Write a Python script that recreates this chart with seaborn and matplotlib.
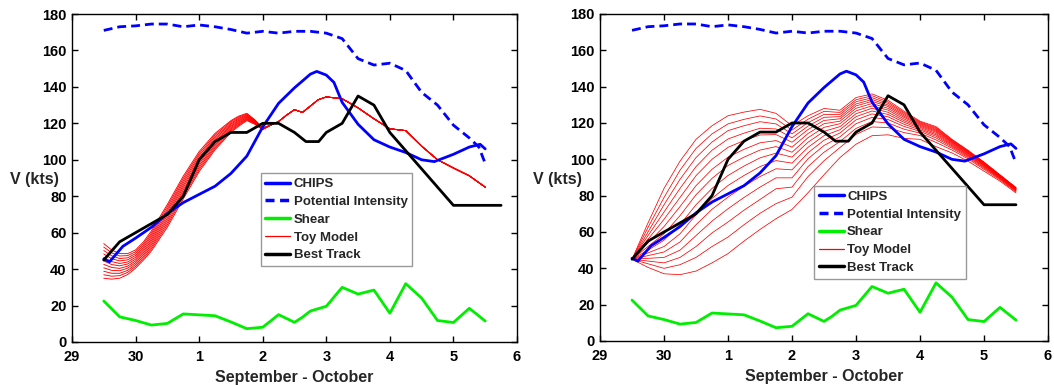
import numpy as np
import pandas as pd
import matplotlib
matplotlib.use("Agg")
import matplotlib.pyplot as plt
from matplotlib.lines import Line2D
import seaborn as sns

# time axis: days after 29 September 00Z
day_ticks = [0, 1, 2, 3, 4, 5, 6, 7]
day_labels = ['29', '30', '1', '2', '3', '4', '5', '6']

chips_t = [0.5, 0.59, 0.8, 1.0, 1.25, 1.5, 1.75, 2.0, 2.25, 2.5, 2.75, 3.0, 3.25, 3.5,
           3.75, 3.85, 4.0, 4.12, 4.25, 4.5, 4.75, 5.0, 5.25, 5.5, 5.7, 6.0, 6.25, 6.42, 6.5]
chips_v = [45.5, 44, 52.5, 57, 63, 70.5, 76.5, 81, 85.5, 92.5, 102, 118, 131, 139.5,
           147, 148.5, 146.5, 142.5, 131.5, 119.5, 111, 107, 104, 100, 99, 103, 107, 108.5, 106]

pi_t = [0.5, 0.75, 1.0, 1.25, 1.5, 1.75, 2.0, 2.25, 2.5, 2.75, 3.0, 3.25, 3.5, 3.75,
        4.0, 4.25, 4.5, 4.75, 5.0, 5.25, 5.5, 5.75, 6.0, 6.25, 6.4, 6.5]
pi_v = [171, 173, 173.5, 174.5, 174.5, 173, 174, 173, 171.5, 169.5, 170.5, 169.5, 170.5, 170.5,
        169.5, 166.5, 155.5, 152, 153, 149, 137, 130, 119, 112, 107, 98]

shear_t = [0.5, 0.75, 1.0, 1.25, 1.5, 1.75, 2.0, 2.25, 2.5, 2.75, 3.0, 3.25, 3.5, 3.625,
           3.75, 4.0, 4.25, 4.5, 4.75, 5.0, 5.25, 5.5, 5.75, 6.0, 6.25, 6.5]
shear_v = [22.5, 13.8, 11.8, 9.3, 10.2, 15.4, 14.9, 14.4, 11, 7.3, 8.1, 15, 10.8, 13.6,
           17, 19.6, 30, 26.3, 28.5, 15.8, 32, 24.1, 11.8, 10.7, 18.5, 11.5]

best_t = [0.5, 0.75, 1.0, 1.25, 1.5, 1.75, 2.0, 2.25, 2.5, 2.75, 3.0, 3.25, 3.5, 3.68,
          3.88, 4.0, 4.25, 4.5, 4.75, 5.0, 6.0]
best_v = [45, 55, 60, 65, 70, 80, 100, 110, 115, 115, 120, 120, 115, 110,
          110, 115, 120, 135, 130, 115, 75]
best_end_t = {'left': 6.75, 'right': 6.5}
best_end_v = 75

# left panel toy model: band of members (rows = times, cols = members), then one common tail
toy_left_band_t = [0.5, 0.625, 0.75, 0.875, 1.0, 1.125, 1.25, 1.5, 1.75, 2.0, 2.25, 2.5,
                   2.625, 2.75, 2.875, 3.0]
toy_left_band = [
    [54, 52.1, 50.2, 48.3, 46.4, 44.5, 42.6, 40.7, 38.8, 36.9, 35],
    [50.5, 48.9, 47.3, 45.7, 44.1, 42.5, 40.9, 39.3, 37.7, 36.1, 34.5],
    [48.5, 47.2, 45.8, 44.5, 43.1, 41.8, 40.4, 39.1, 37.7, 36.4, 35],
    [48.5, 47.4, 46.2, 45.1, 43.9, 42.8, 41.6, 40.5, 39.3, 38.2, 37],
    [50.5, 49.5, 48.5, 47.5, 46.5, 45.5, 44.5, 43.5, 42.5, 41.5, 40.5],
    [55, 54, 53, 52, 51, 50, 49, 48, 47, 46, 45],
    [61, 59.9, 58.8, 57.7, 56.6, 55.5, 54.4, 53.3, 52.2, 51.1, 50],
    [75.5, 74.3, 73, 71.8, 70.5, 69.3, 68, 66.8, 65.5, 64.3, 63],
    [91, 89.8, 88.5, 87.3, 86, 84.8, 83.5, 82.3, 81, 79.8, 78.5],
    [104.5, 103.4, 102.3, 101.2, 100.1, 99, 97.9, 96.8, 95.7, 94.6, 93.5],
    [114.5, 113.6, 112.7, 111.8, 110.9, 110, 109.1, 108.2, 107.3, 106.4, 105.5],
    [121.5, 120.9, 120.2, 119.6, 118.9, 118.3, 117.6, 117, 116.3, 115.7, 115],
    [124, 123.5, 122.9, 122.4, 121.8, 121.3, 120.7, 120.2, 119.6, 119.1, 118.5],
    [125.5, 125.1, 124.7, 124.3, 123.9, 123.5, 123.1, 122.7, 122.3, 121.9, 121.5],
    [122, 121.8, 121.5, 121.3, 121, 120.8, 120.5, 120.3, 120, 119.8, 119.5],
    [117.5, 117.4, 117.3, 117.2, 117.1, 117, 116.9, 116.8, 116.7, 116.6, 116.5],
]
toy_left_tail_t = [3.125, 3.25, 3.375, 3.5, 3.625, 3.75, 3.875, 4.0, 4.25, 4.5, 4.75,
                   5.0, 5.25, 5.5, 5.75, 6.0, 6.25, 6.5]
toy_left_tail = [119, 121, 124.5, 127.5, 126, 129.5, 133, 134.5, 133.5, 128.5, 122.5,
                 117, 116, 107.5, 100, 95.5, 91.2, 85]

# right panel toy model: 14 members (rows = times)
toy_right_t = [0.5, 0.75, 1.0, 1.25, 1.5, 1.75, 2.0, 2.25, 2.5, 2.75, 3.0, 3.25, 3.5,
               3.75, 4.0, 4.25, 4.5, 4.75, 5.0, 5.25, 5.5, 5.75, 6.0, 6.25, 6.5]
toy_right = [
    [45, 45, 45, 45, 45, 45, 45, 45, 45, 45, 45, 45, 45, 45],
    [65, 62.5, 60, 58, 56, 54, 52, 50, 48.5, 47, 45.5, 44, 42.5, 40.5],
    [84, 79, 75, 71, 67, 63, 59, 55.5, 52, 49, 46, 43, 40, 37],
    [99, 94, 89, 84, 79, 74, 69, 64, 59, 54.5, 50, 46, 42, 36.5],
    [111, 106, 101, 96, 91, 85.5, 80.5, 75, 69.5, 64, 58, 52, 46, 38.5],
    [118.5, 114, 109.5, 105, 100, 94.5, 89.5, 84, 78.5, 72.5, 66, 59.5, 52, 43],
    [124, 119.5, 115.8, 111.2, 106.6, 101.2, 96.6, 91.1, 85.6, 79.2, 72.8, 65.5, 57.2, 48.1],
    [126, 122, 118.5, 114.4, 110.3, 105.5, 101.2, 96.3, 91.1, 85.2, 79, 72, 64, 55],
    [127.5, 123.9, 120.7, 117.1, 113.4, 109.1, 105.1, 100.8, 96, 90.5, 84.7, 77.9, 70.3, 61.4],
    [125.3, 122.2, 119.5, 116.7, 113.6, 110.3, 107, 103.4, 99.3, 94.8, 89.8, 83.8, 75.6, 67.3],
    [118.5, 116.1, 114, 111.8, 109.4, 106.7, 103.9, 101.2, 97.9, 94.2, 89.8, 84.7, 79.2, 72.4],
    [124, 122.1, 120.2, 118.3, 116.4, 114.2, 111.9, 109.4, 106.6, 103.6, 100.3, 96, 90.5, 81.6],
    [128, 126.4, 124.7, 123.1, 121.4, 119.6, 117.6, 115.4, 113, 110.5, 107.6, 103.9, 99.2, 91.5],
    [127, 125.8, 124.7, 123.5, 122.3, 121, 119.6, 118, 116.3, 114.5, 112.4, 109.8, 106.5, 101],
    [134, 132.8, 131.7, 130.5, 129.4, 128.1, 126.7, 125.1, 123.5, 121.7, 119.6, 117, 113.7, 108.3],
    [136, 135, 133.9, 132.9, 131.9, 130.7, 129.4, 128.1, 126.6, 125, 123.1, 120.8, 117.8, 113],
    [132.5, 131.6, 130.8, 129.9, 129.1, 128.1, 127.1, 125.9, 124.7, 123.4, 121.9, 120, 117.5, 113.5],
    [126.5, 125.8, 125.2, 124.5, 123.8, 123.1, 122.2, 121.3, 120.4, 119.3, 118.1, 116.6, 114.7, 111.5],
    [121, 120.6, 120.1, 119.7, 119.2, 118.7, 118.2, 117.6, 116.9, 116.2, 115.4, 114.4, 113.1, 111],
    [118, 117.5, 117, 116.5, 116, 115.5, 114.9, 114.2, 113.5, 112.7, 111.8, 110.7, 109.3, 107],
    [111, 110.7, 110.3, 110, 109.7, 109.3, 108.9, 108.4, 107.9, 107.4, 106.8, 106.1, 105.1, 103.5],
    [105, 104.7, 104.5, 104.2, 103.9, 103.6, 103.3, 102.9, 102.5, 102.1, 101.6, 101, 100.3, 99],
    [98.5, 98.3, 98.1, 97.8, 97.6, 97.4, 97.1, 96.8, 96.5, 96.1, 95.7, 95.2, 94.5, 93.5],
    [91.5, 91.3, 91.2, 91, 90.9, 90.7, 90.5, 90.3, 90.1, 89.8, 89.5, 89.2, 88.7, 88],
    [84.5, 84.4, 84.2, 84.1, 84, 83.8, 83.6, 83.5, 83.3, 83.1, 82.8, 82.5, 82.1, 81.5],
]

legend_labels = ['CHIPS', 'Potential Intensity', 'Shear', 'Toy Model', 'Best Track']


def members_frame(times, table):
    arr = np.asarray(table, dtype=float)
    df = pd.DataFrame(arr, columns=range(arr.shape[1]))
    df['t'] = times
    return df.melt(id_vars='t', var_name='member', value_name='v')


def series_frame(times, values):
    return pd.DataFrame({'t': times, 'v': values})


left_band = np.asarray(toy_left_band, dtype=float)
left_tail = np.tile(np.asarray(toy_left_tail, dtype=float)[:, None], (1, left_band.shape[1]))
toy_left_df = members_frame(toy_left_band_t + toy_left_tail_t, np.vstack([left_band, left_tail]))
toy_right_df = members_frame(toy_right_t, toy_right)

sns.set_style('ticks')
plt.rcParams['font.family'] = ['Liberation Sans', 'DejaVu Sans']
plt.rcParams['font.weight'] = 'bold'
plt.rcParams['axes.labelweight'] = 'bold'

fig = plt.figure(figsize=(10.54, 3.85), dpi=100)
ax_l = fig.add_axes([0.0683, 0.1117, 0.4222, 0.8519])
ax_r = fig.add_axes([0.5693, 0.1143, 0.4250, 0.8494])

blue = '#0000ff'
green = '#00ee00'
red = '#ff0000'


def draw_panel(ax, toy_df, toy_lw, side, legend_anchor, ylab_x):
    sns.lineplot(data=toy_df, x='t', y='v', units='member', estimator=None, sort=False,
                 color=red, lw=toy_lw, ax=ax, legend=False)
    sns.lineplot(data=series_frame(pi_t, pi_v), x='t', y='v', estimator=None, color=blue,
                 lw=2.0, linestyle=(0, (3.2, 1.8)), ax=ax, legend=False)
    sns.lineplot(data=series_frame(shear_t, shear_v), x='t', y='v', estimator=None,
                 color=green, lw=2.0, ax=ax, legend=False)
    sns.lineplot(data=series_frame(chips_t, chips_v), x='t', y='v', estimator=None,
                 color=blue, lw=2.0, ax=ax, legend=False)
    bt = series_frame(best_t + [best_end_t[side]], best_v + [best_end_v])
    sns.lineplot(data=bt, x='t', y='v', estimator=None, color='black', lw=2.0, ax=ax,
                 legend=False)

    ax.set_xlim(day_ticks[0], day_ticks[-1])
    ax.set_ylim(0, 180)
    ax.set_xticks(day_ticks)
    ax.set_xticklabels(day_labels)
    ax.set_yticks(range(0, 181, 20))
    ax.tick_params(direction='in', top=True, right=True, length=4, width=1,
                   labelsize=10.5, colors='black')
    ax.tick_params(axis='x', pad=6)
    ax.tick_params(axis='y', pad=4)
    for s in ax.spines.values():
        s.set_linewidth(1.0)
        s.set_color('black')
        s.set_visible(True)

    ax.set_xlabel('September - October', fontsize=11.5, fontweight='bold', labelpad=4)
    ax.set_ylabel('V (kts)', fontsize=11.5, fontweight='bold', rotation=0,
                  ha='right', va='center')
    ax.yaxis.set_label_coords(ylab_x, 0.495)

    handles = [
        Line2D([], [], color=blue, lw=2.5),
        Line2D([], [], color=blue, lw=2.5, linestyle=(0, (2.6, 1.6))),
        Line2D([], [], color=green, lw=2.5),
        Line2D([], [], color=red, lw=0.9),
        Line2D([], [], color='black', lw=2.5),
    ]
    leg = ax.legend(handles, legend_labels, loc='upper left', bbox_to_anchor=legend_anchor,
                    fontsize=9.5, frameon=True, fancybox=False, framealpha=1,
                    edgecolor='#999999', borderpad=0.35, labelspacing=0.42,
                    handlelength=1.9, handletextpad=0.25, borderaxespad=0)
    leg.get_frame().set_linewidth(1.0)
    for txt in leg.get_texts():
        txt.set_fontweight('bold')


draw_panel(ax_l, toy_left_df, 0.65, 'left', (0.424, 0.514), -0.03)
draw_panel(ax_r, toy_right_df, 0.55, 'right', (0.478, 0.474), -0.04)

fig.savefig('out.png', dpi=100)
